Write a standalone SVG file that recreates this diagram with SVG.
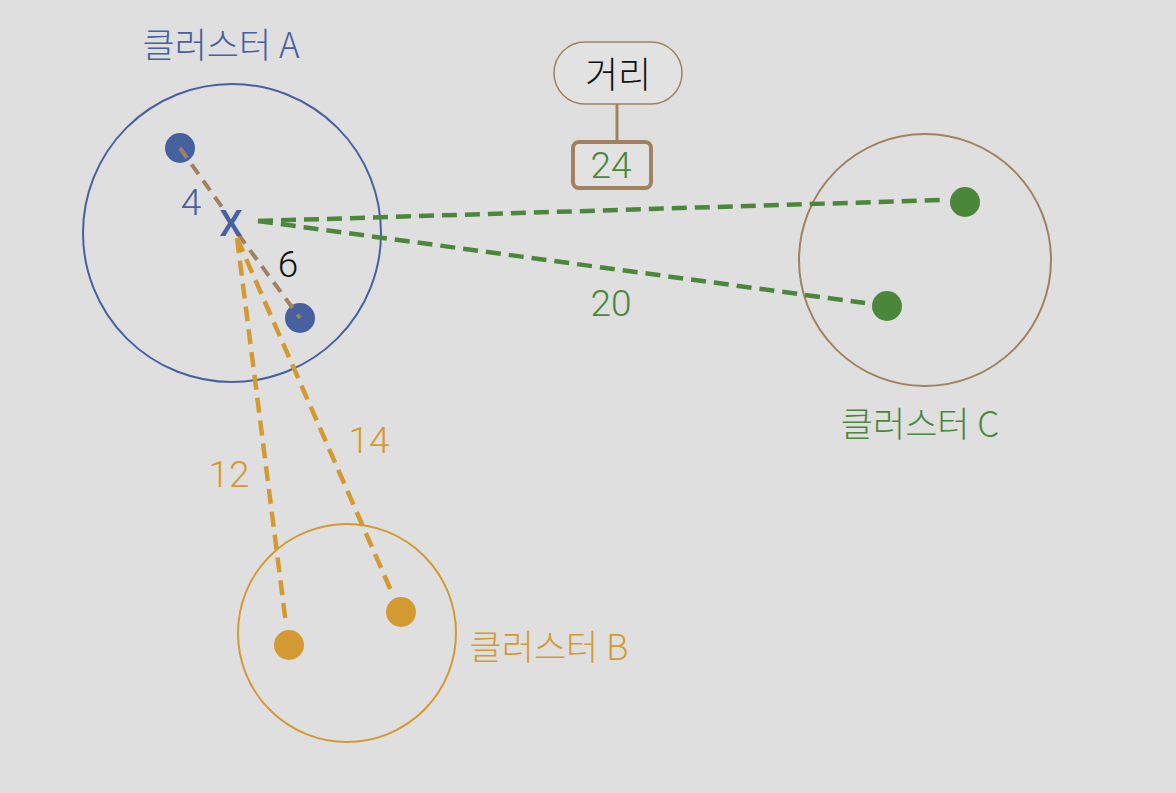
<svg xmlns="http://www.w3.org/2000/svg" width="1176" height="793" viewBox="0 0 1176 793">
<style>
text{font-family:"Noto Sans CJK KR","Noto Sans",sans-serif;font-weight:300}
.lbl{font-size:35px}
.num{font-family:Roboto,"Noto Sans",sans-serif;font-size:37px;text-anchor:middle}
.cx{font-family:Roboto,"Liberation Sans",sans-serif;font-weight:500;font-size:37px;text-anchor:middle}
.blue{fill:#4660a0}
.orange{fill:#d49a32}
.green{fill:#4a873b}
.brownl{stroke:#a08260;stroke-width:4;stroke-dasharray:12 8;fill:none}
.greenl{stroke:#4a873b;stroke-width:4.5;stroke-dasharray:15 8;fill:none}
.orangel{stroke:#d49a32;stroke-width:4.5;stroke-dasharray:15 8;fill:none}
.ring{fill:none;stroke-width:2}
</style>
<rect width="1176" height="793" fill="#dfdfdf"/>
<g id="clusterA">
<circle class="ring" cx="232" cy="233" r="149" stroke="#4660a0"/>
<text class="lbl blue" x="221" y="58" text-anchor="middle">클러스터 A</text>
<circle class="blue" cx="180" cy="148" r="15"/>
<circle class="blue" cx="300" cy="318" r="15"/>
</g>
<g id="clusterB">
<circle class="ring" cx="347" cy="633" r="109" stroke="#d49a32"/>
<text class="lbl orange" x="549" y="660" text-anchor="middle">클러스터 B</text>
<circle class="orange" cx="289" cy="645" r="15"/>
<circle class="orange" cx="401" cy="612" r="15"/>
</g>
<g id="clusterC">
<circle class="ring" cx="925" cy="260" r="126" stroke="#a08260"/>
<text class="lbl green" x="920" y="437" text-anchor="middle">클러스터 C</text>
<circle class="green" cx="965" cy="202" r="15"/>
<circle class="green" cx="887" cy="306" r="15"/>
</g>
<g id="connectors">
<line class="brownl" x1="180" y1="148" x2="224" y2="210"/>
<line class="brownl" x1="238" y1="234" x2="300" y2="318"/>
<line class="greenl" x1="258" y1="221" x2="943" y2="200"/>
<line class="greenl" x1="258" y1="221" x2="865" y2="303"/>
<line class="orangel" x1="237" y1="238" x2="286" y2="624"/>
<line class="orangel" x1="237" y1="238" x2="392" y2="593"/>
<line x1="617" y1="104" x2="617" y2="142" stroke="#a08260" stroke-width="3"/>
</g>
<g id="centroid">
<text class="cx blue" x="231" y="236">X</text>
</g>
<g id="labels">
<text class="num blue" x="191" y="215">4</text>
<text class="num" x="288" y="277" fill="#111">6</text>
<text class="num orange" x="229" y="487">12</text>
<text class="num orange" x="369" y="453">14</text>
<text class="num green" x="611" y="316">20</text>
</g>
<g id="legendTitle">
<rect x="554" y="42" width="128" height="62" rx="31" fill="#e2e2e2" stroke="#a08260" stroke-width="1.5"/>
<text x="618" y="88" font-size="36" text-anchor="middle" fill="#111">거리</text>
</g>
<g id="legendValue">
<rect x="573" y="142" width="78" height="46" rx="6" fill="#e2e2e2" stroke="#a08260" stroke-width="4"/>
<text class="num green" x="611" y="178">24</text>
</g>
</svg>
